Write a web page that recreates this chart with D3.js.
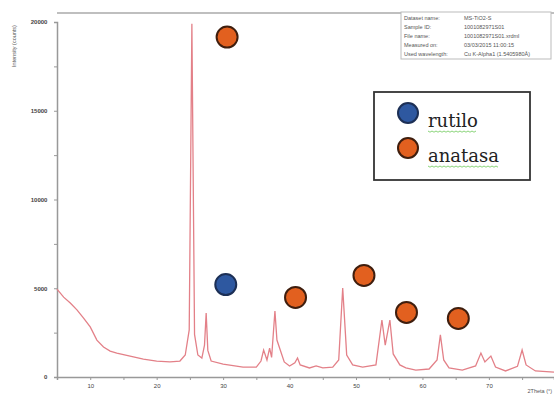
<!DOCTYPE html>
<html lang="en">
<head>
  <meta charset="UTF-8" />
  <title>XRD TiO2</title>
  <script src="https://d3js.org/d3.v7.min.js"></script>
  <style>
    body { margin: 0; background: #fff; }
    svg { display: block; font-family: Arial, sans-serif; }
  </style>
</head>
<body>
  <div id="chart"></div>
  <script>
    // ----- Data (2theta in degrees, intensity in counts) -----
    const twoTheta = [5.0, 6.0, 7.0, 8.0, 9.0, 10.0, 11.0, 12.0, 13.0, 14.0, 16.0, 18.0, 20.0, 22.0, 23.5, 24.3, 24.9, 25.3, 25.7, 26.2,
      26.8, 27.2, 27.45, 27.7, 28.2, 30.0, 33.0, 35.0, 35.7, 36.1, 36.6, 37.0, 37.3, 37.8, 38.1, 38.6, 39.2, 40.0, 40.8, 41.2,
      41.6, 43.0, 44.0, 45.0, 46.5, 47.4, 48.0, 48.6, 49.5, 51.0, 53.0, 53.9, 54.4, 55.1, 55.6, 56.6, 57.5, 59.0, 61.0, 62.2,
      62.7, 63.2, 64.0, 66.0, 68.0, 68.8, 69.4, 70.3, 71.0, 72.5, 74.3, 75.0, 75.6, 77.0, 79.8];
    const counts = [4950, 4500, 4170, 3780, 3320, 2820, 2080, 1690, 1460, 1350, 1180, 1010, 900, 850, 900, 1240, 2650, 19900, 2400, 1240,
      1070, 1800, 3600, 1500, 900, 730, 560, 560, 900, 1520, 960, 1630, 1100, 3720, 2080, 1520, 850, 620, 800, 1070,
      680, 510, 620, 510, 560, 960, 5010, 1240, 680, 560, 680, 3210, 1800, 3210, 1300, 680, 510, 390, 450, 960,
      2370, 960, 510, 390, 620, 1350, 850, 1180, 560, 340, 600, 1520, 680, 340, 280];

    const xTicks = [10, 20, 30, 40, 50, 60, 70];
    const yTicks = [0, 5000, 10000, 15000, 20000];

    // phase markers: [2theta, counts, phase]
    const markerTheta = [30.6, 30.4, 40.9, 51.2, 57.6, 65.4];
    const markerCounts = [19150, 5210, 4480, 5720, 3640, 3300];
    const markerPhase = ['anatasa', 'rutilo', 'anatasa', 'anatasa', 'anatasa', 'anatasa'];

    const legendNames = ['rutilo', 'anatasa'];
    const phaseColor = { rutilo: '#2e58a0', anatasa: '#e2601f' };
    const phaseStroke = { rutilo: '#1c2f55', anatasa: '#3f1e0e' };

    const infoLabels = ['Dataset name:', 'Sample ID:', 'File name:', 'Measured on:', 'Used wavelength:'];
    const infoValues = ['MS-TiO2-S', '1001082971S01', '1001082971S01.xrdml', '03/03/2015 11:00:15', 'Cu K-Alpha1 (1.5405980\u00c5)'];

    // ----- Setup -----
    const W = 554, H = 396;
    const svg = d3.select('#chart').append('svg')
      .attr('width', W).attr('height', H);

    const x = d3.scaleLinear().domain([5, 79.8]).range([57, 554]);
    const y = d3.scaleLinear().domain([0, 20000]).range([377, 22]);

    // frame top line
    svg.append('line')
      .attr('x1', 57).attr('x2', W)
      .attr('y1', 13).attr('y2', 13)
      .attr('stroke', '#aaa').attr('stroke-width', 1.5);

    // ----- Axes -----
    const xAxis = svg.append('g')
      .attr('transform', 'translate(0,377)')
      .call(d3.axisBottom(x).tickValues(d3.range(10, 80, 5)).tickSize(3)
        .tickFormat(d => xTicks.includes(d) ? d : ''));
    xAxis.select('.domain').attr('stroke', '#999').attr('stroke-width', 1.5);
    xAxis.selectAll('.tick line').attr('stroke', '#999');
    xAxis.selectAll('text').attr('font-size', 6).attr('fill', '#444').attr('dy', '0.9em');

    const yAxis = svg.append('g')
      .attr('transform', 'translate(57,0)')
      .call(d3.axisLeft(y).tickValues(d3.range(0, 20001, 2500)).tickSize(3)
        .tickFormat(d => yTicks.includes(d) ? d : ''));
    yAxis.select('.domain').attr('stroke', '#999').attr('stroke-width', 1.5);
    yAxis.selectAll('.tick line').attr('stroke', '#999');
    yAxis.selectAll('text').attr('font-size', 6).attr('font-weight', 'bold').attr('fill', '#444').attr('dx', '-0.6em');

    svg.append('text')
      .attr('transform', 'translate(16,46) rotate(-90)')
      .attr('text-anchor', 'middle')
      .attr('font-size', 5.5).attr('fill', '#555')
      .text('Intensity (counts)');

    svg.append('text')
      .attr('x', 552).attr('y', 393)
      .attr('text-anchor', 'end')
      .attr('font-size', 5.5).attr('fill', '#555')
      .text('2Theta (\u00b0)');

    // ----- Pattern -----
    const pts = twoTheta.map((t, i) => [t, counts[i]]);
    svg.append('path')
      .datum(pts)
      .attr('fill', 'none')
      .attr('stroke', '#e38088')
      .attr('stroke-width', 1.3)
      .attr('d', d3.line().x(d => x(d[0])).y(d => y(d[1])));

    // ----- Info box -----
    const info = svg.append('g').attr('transform', 'translate(401,12)');
    info.append('rect')
      .attr('width', 150).attr('height', 47)
      .attr('fill', '#fff').attr('stroke', '#bbb');
    infoLabels.forEach((lab, i) => {
      info.append('text').attr('x', 3).attr('y', 8 + i * 9)
        .attr('font-size', 5.5).attr('fill', '#555').text(lab);
      info.append('text').attr('x', 63).attr('y', 8 + i * 9)
        .attr('font-size', 5.5).attr('fill', '#555').text(infoValues[i]);
    });

    // ----- Phase markers -----
    svg.selectAll('circle.marker')
      .data(markerTheta.map((t, i) => ({ t, c: markerCounts[i], p: markerPhase[i] })))
      .join('circle')
      .attr('class', 'marker')
      .attr('cx', d => x(d.t))
      .attr('cy', d => y(d.c))
      .attr('r', 10.5)
      .attr('fill', d => phaseColor[d.p])
      .attr('stroke', d => phaseStroke[d.p])
      .attr('stroke-width', 2);

    // ----- Legend -----
    const lg = svg.append('g').attr('transform', 'translate(374,92)');
    lg.append('rect')
      .attr('width', 156).attr('height', 88)
      .attr('fill', '#fff').attr('stroke', '#333').attr('stroke-width', 1.8);
    legendNames.forEach((name, i) => {
      const cy = 21 + i * 35;
      lg.append('circle')
        .attr('cx', 34).attr('cy', cy).attr('r', 10)
        .attr('fill', phaseColor[name])
        .attr('stroke', phaseStroke[name]).attr('stroke-width', 2);
      const t = lg.append('text')
        .attr('x', 54).attr('y', cy + 14)
        .attr('font-family', 'DejaVu Serif, serif')
        .attr('font-size', 18).attr('fill', '#222')
        .text(name);
      const w = t.node().getComputedTextLength();
      // spell-check squiggle
      const zz = d3.range(0, Math.floor(w / 2) + 1).map(k => [54 + k * 2, cy + 18 + (k % 2 ? 1.2 : 0)]);
      lg.append('path')
        .attr('d', d3.line()(zz))
        .attr('fill', 'none').attr('stroke', '#7ccf6a').attr('stroke-width', 0.9);
    });
  </script>
</body>
</html>
